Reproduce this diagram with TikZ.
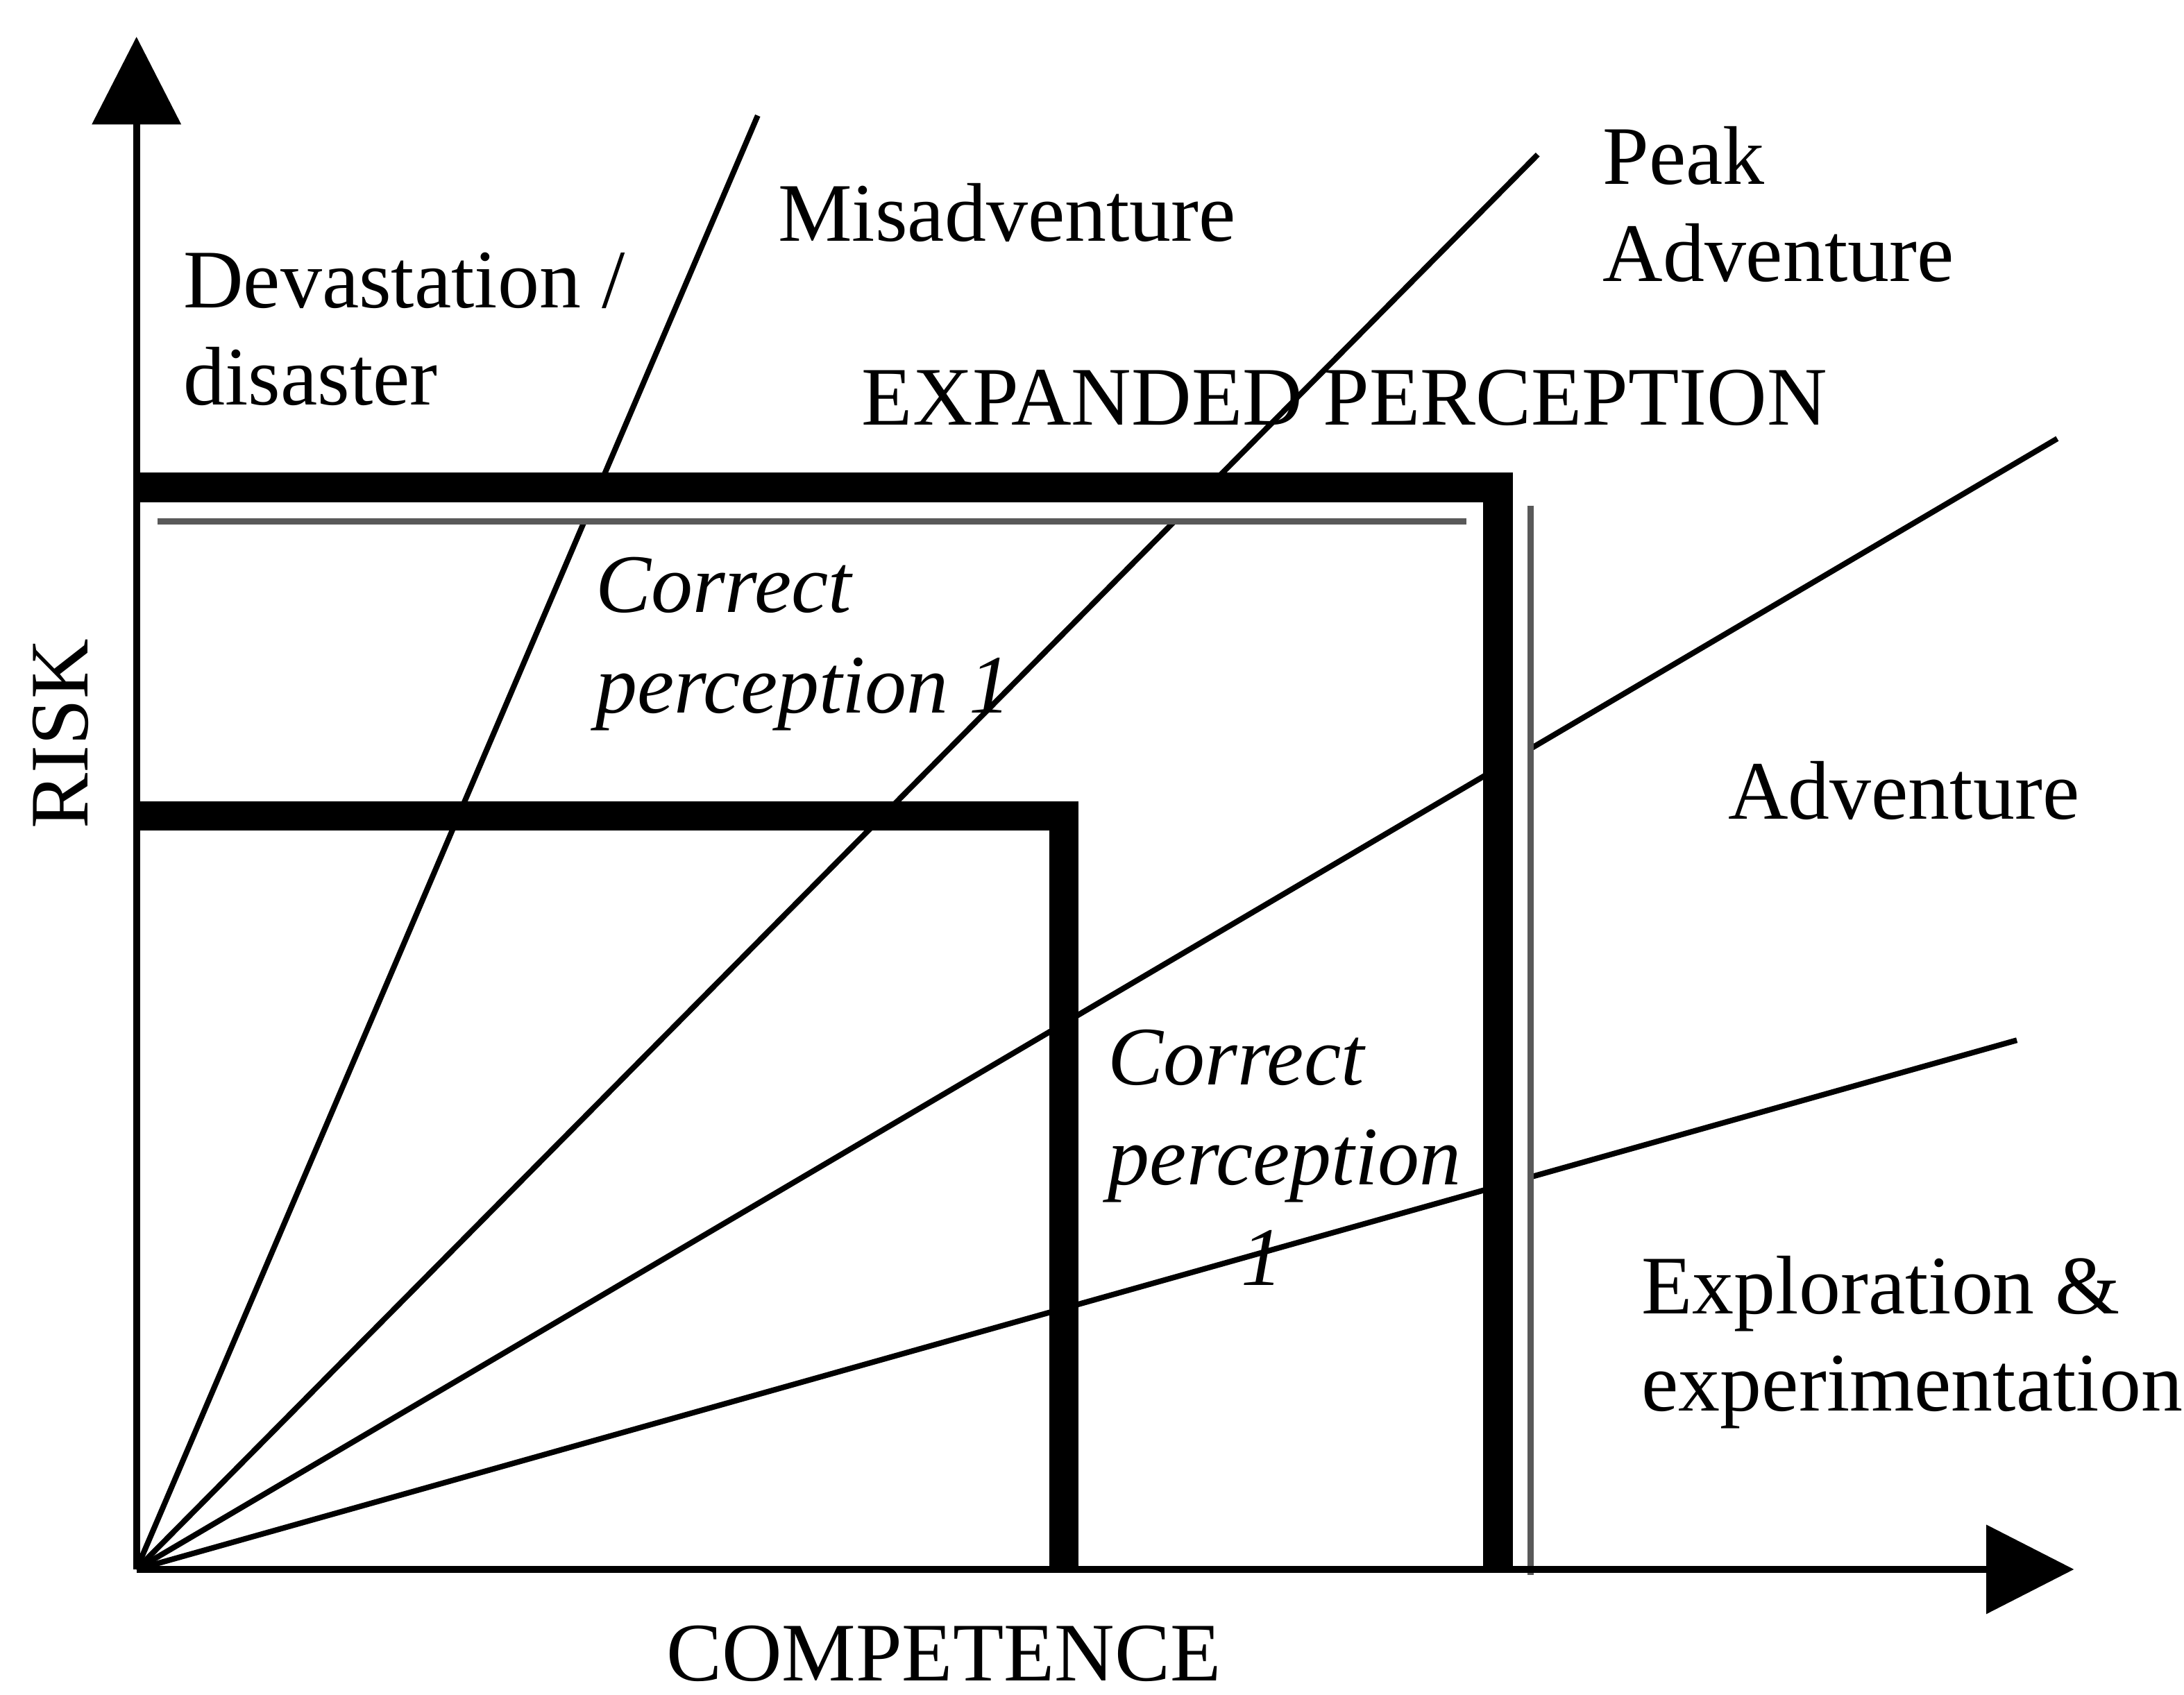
\documentclass[tikz,border=0pt]{standalone}
\usepackage{fontspec}
\setmainfont{Liberation Serif}
\usetikzlibrary{arrows.meta}
\tikzset{
	lbl/.style={inner sep=0pt, anchor=base west, align=left, font=\fontsize{17}{19.8}\selectfont},
	lblit/.style={lbl, font=\fontsize{17}{20.5}\selectfont\itshape},
	axis/.style={line width=0.5mm, -{Triangle[length=6.3mm, width=6.3mm]}},
	fan/.style={line width=0.4mm},
	bar/.style={line width=2.1mm, line join=miter},
	ghost/.style={draw=black!65, line width=0.45mm},
}
\begin{document}
\begin{tikzpicture}[x=0.1mm, y=0.1mm]
	\useasboundingbox (-98,-90.2) rectangle (1470,1127);
	\coordinate (o) at (0,0);
	\coordinate (xtip) at (1391,0);
	\coordinate (ytip) at (0,1108.6);

	% fan of lines from the origin
	\foreach \x/\y [count=\i] in {446/1044, 1006/1016, 1379/812, 1350/380} {
		\coordinate (f\i) at (\x,\y);
		\draw[fan] (o) -- (f\i);
	}

	% expanded perception frame
	\draw[white, line width=1.4mm] (15,760) -- (995,760) -- (995,0);
	\draw[bar] (0,777) -- (977.5,777) -- (977.5,0);
	\draw[ghost] (15,752.5) -- (955,752.5);
	\draw[ghost] (1001,764) -- (1001,-4);

	% first perception frame
	\draw[bar] (0,541) -- (666,541) -- (666,0);

	% axes
	\draw[axis] (o) -- (xtip);
	\draw[axis, -{Triangle[length=6.3mm, width=6.3mm, sep=0.8mm]}] (o) -- (ytip);

	\node[lbl] (devast) at (33,836.5) {Devastation /\\disaster};
	\node[lbl] (misadv) at (460,954) {Misadventure};
	\node[lbl] (peak) at (1052,925) {Peak\\Adventure};
	\node[lbl] (expand) at (520,822) {EXPANDED PERCEPTION};
	\node[lblit] (corr1) at (329,615) {Correct\\perception 1};
	\node[lbl] (adv) at (1142,539) {Adventure};
	\node[lblit] (corr2) at (697,204) {Correct\\perception\\\hspace*{1.6em}1};
	\node[lbl] (explor) at (1080,114) {Exploration \&\\experimentation};
	\node[lbl, anchor=base, rotate=90] (risk) at (-35,600) {RISK};
	\node[lbl, anchor=base] (compet) at (579.5,-80) {COMPETENCE};
\end{tikzpicture}
\end{document}
